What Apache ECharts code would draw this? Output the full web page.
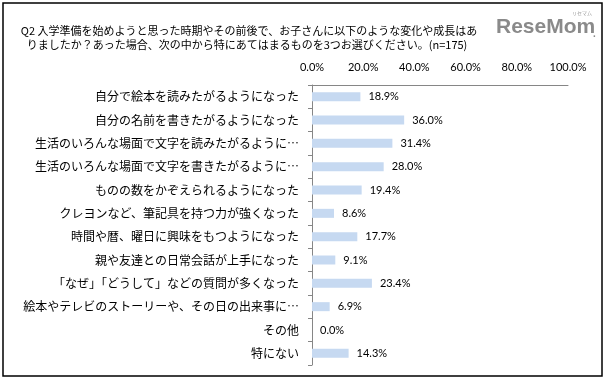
<!DOCTYPE html>
<html><head><meta charset="utf-8">
<script src="https://cdn.jsdelivr.net/npm/echarts@6/dist/echarts.min.js"></script>
<style>html,body{margin:0;padding:0;background:#fff}#c{width:608px;height:381px}</style>
</head><body><div id="c"></div>
<script>
const categories = [
  "自分で絵本を読みたがるようになった",
  "自分の名前を書きたがるようになった",
  "生活のいろんな場面で文字を読みたがるように…",
  "生活のいろんな場面で文字を書きたがるように…",
  "ものの数をかぞえられるようになった",
  "クレヨンなど、筆記具を持つ力が強くなった",
  "時間や暦、曜日に興味をもつようになった",
  "親や友達との日常会話が上手になった",
  "「なぜ」「どうして」などの質問が多くなった",
  "絵本やテレビのストーリーや、その日の出来事に…",
  "その他",
  "特にない"
];
const values = [18.9, 36.0, 31.4, 28.0, 19.4, 8.6, 17.7, 9.1, 23.4, 6.9, 0.0, 14.3];
const titleLines = [
  "Q2 入学準備を始めようと思った時期やその前後で、お子さんに以下のような変化や成長はあ",
  "りましたか？あった場合、次の中から特にあてはまるものを3つお選びください。(n=175)"
];
const xTicks = [0, 20, 40, 60, 80, 100];

const jp = '"Noto Sans CJK JP", sans-serif';
const chart = echarts.init(document.getElementById('c'), null, {renderer: 'canvas'});
chart.setOption({
  animation: false,
  backgroundColor: '#fff',
  grid: {left: 312, right: 40, top: 85, bottom: 16, containLabel: false},
  xAxis: {
    type: 'value', position: 'top', min: xTicks[0], max: xTicks[xTicks.length - 1], interval: 20,
    axisLine: {show: true, lineStyle: {color: '#868686', width: 1}},
    axisTick: {show: false},
    splitLine: {show: false},
    axisLabel: {formatter: v => v.toFixed(1) + '%', color: '#000', fontSize: 11, fontFamily: 'Lato, sans-serif', margin: 12}
  },
  yAxis: {
    type: 'category', data: categories, inverse: true,
    axisLine: {show: true, lineStyle: {color: '#868686', width: 1}},
    axisTick: {show: true, length: 4, lineStyle: {color: '#868686'}},
    axisLabel: {color: '#000', fontSize: 12, fontFamily: jp, margin: 13}
  },
  series: [{
    type: 'bar', data: values, barWidth: 9,
    itemStyle: {color: '#c6d9f1'},
    label: {show: true, position: 'right', distance: 8, formatter: p => p.value.toFixed(1) + '%',
      color: '#000', fontSize: 11, fontFamily: 'Lato, sans-serif'}
  }],
  graphic: [
    {type: 'rect', shape: {x: 3, y: 3, width: 599, height: 373}, style: {fill: 'none', stroke: '#000', lineWidth: 1.5}, silent: true},
    {type: 'text', x: 249, y: 31, style: {text: titleLines[0], fill: '#000', font: '11px ' + jp, textAlign: 'center', textVerticalAlign: 'middle'}},
    {type: 'text', x: 247, y: 45, style: {text: titleLines[1], fill: '#000', font: '11px ' + jp, textAlign: 'center', textVerticalAlign: 'middle'}},
    {type: 'text', x: 496, y: 27, style: {text: 'ReseMom', fill: '#8a8a8a', font: 'bold 21px "Liberation Sans", Arial, sans-serif', textAlign: 'left', textVerticalAlign: 'middle'}},
    {type: 'text', x: 593, y: 34, style: {text: '.', fill: '#8a8a8a', font: 'bold 10px "Liberation Sans", sans-serif', textAlign: 'left', textVerticalAlign: 'middle'}},
    {type: 'text', x: 582, y: 13, style: {text: 'リセマム', fill: '#9a9a9a', font: '5px ' + jp, textAlign: 'center', textVerticalAlign: 'middle'}}
  ]
});
</script></body></html>
